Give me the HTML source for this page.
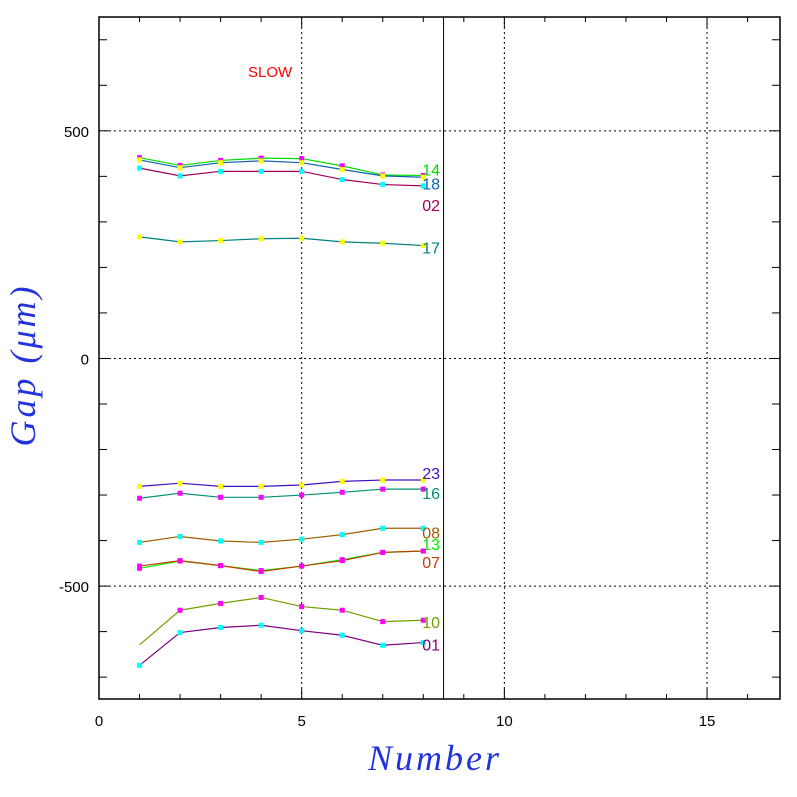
<!DOCTYPE html>
<html><head><meta charset="utf-8"><style>
body{margin:0;background:#fff}
svg{display:block;font-family:"Liberation Sans",sans-serif}
</style></head><body>
<svg id="chart" width="797" height="797" viewBox="0 0 797 797">
<rect width="797" height="797" fill="#fff"/>
<g id="grid"></g><g id="axes"></g><g id="series"></g>
<text x="248" y="77" fill="#ff0000" font-size="15">SLOW</text>
<text x="435" y="770" fill="#2233dd" font-family="Liberation Serif,serif" font-style="italic" font-size="36" letter-spacing="3" text-anchor="middle">Number</text>
<text transform="translate(35,365) rotate(-90)" fill="#2233dd" font-family="Liberation Serif,serif" font-style="italic" font-size="36" letter-spacing="3" text-anchor="middle">Gap (μm)</text>
</svg>
<script>
const xTicks=[0,5,10,15];
const yTicks=[-500,0,500];
const xs=[1,2,3,4,5,6,7,8];
const names=["14","18","02","17","23","16","08","13","07","10","01"];
const s14=[441,424,435,440,439,423,403,402];
const s18=[436,419,430,434,430,415,401,398];
const s02=[418,401,411,411,411,393,382,379];
const s17=[267,256,259,263,264,256,253,248];
const s23=[-281,-274,-281,-281,-278,-270,-267,-267];
const s16=[-307,-296,-305,-305,-300,-294,-287,-287];
const s08=[-404,-391,-401,-404,-397,-387,-373,-373];
const s13=[-461,-445,-455,-466,-456,-442,-426,-423];
const s07=[-456,-444,-455,-468,-456,-444,-426,-423];
const s10=[-629,-553,-538,-525,-545,-553,-578,-575];
const s01=[-674,-602,-591,-586,-598,-608,-630,-624];
const vals=[s14,s18,s02,s17,s23,s16,s08,s13,s07,s10,s01];
const labelDy=[0,12,25,8,-1,10,10,-1,17,8,8];
const lineColors=["#00dd00","#1060b0","#a0005a","#008080","#4010c0","#009070","#a06000","#00ee00","#c04000","#70a000","#800080"];
const markColors=["#ff00ff","#ffff00","#00ffff","#ffff00","#ffff00","#ff00ff","#00ffff","#ff00ff","#ff00ff","#ff00ff","#00ffff"];
const vline=8.5;
const X0=99,X1=780,Y0=17,Y1=699,xmin=0,xmax=16.8,ymin=-748,ymax=750;
const X=v=>X0+(v-xmin)/(xmax-xmin)*(X1-X0);
const Y=v=>Y1-(v-ymin)/(ymax-ymin)*(Y1-Y0);
const NS="http://www.w3.org/2000/svg";
function mk(t,p,a){const e=document.createElementNS(NS,t);for(const k in a)e.setAttribute(k,a[k]);p.appendChild(e);return e;}
const grid=document.getElementById('grid'),axes=document.getElementById('axes'),ser=document.getElementById('series');
xTicks.forEach(t=>{if(t>0){const l=mk('line',grid,{x1:X(t),x2:X(t),y1:Y0,y2:Y1,stroke:'#000','stroke-dasharray':'2,3'});
}
const tx=mk('text',axes,{x:X(t),y:Y1+27,'font-size':15,'text-anchor':'middle'});tx.textContent=t;
});
yTicks.forEach(t=>{const l=mk('line',grid,{x1:X0,x2:X1,y1:Y(t),y2:Y(t),stroke:'#000','stroke-dasharray':'2,3'});

const tx=mk('text',axes,{x:X0-10,y:Y(t)+6,'font-size':15,'text-anchor':'end'});tx.textContent=t;
});
const fr=mk('rect',axes,{x:X0,y:Y0,width:X1-X0,height:Y1-Y0,fill:'none',stroke:'#000','stroke-width':1.5});

for(let v=1;v<=16;v++){const L=v%5==0?10:5;
mk('line',axes,{x1:X(v),x2:X(v),y1:Y1,y2:Y1-L,stroke:'#000'});mk('line',axes,{x1:X(v),x2:X(v),y1:Y0,y2:Y0+L,stroke:'#000'});}
for(let v=-700;v<=700;v+=100){const L=v%500==0?10:8;
mk('line',axes,{x1:X0,x2:X0+L,y1:Y(v),y2:Y(v),stroke:'#000'});mk('line',axes,{x1:X1,x2:X1-L,y1:Y(v),y2:Y(v),stroke:'#000'});}
const vl=mk('line',axes,{x1:X(vline),x2:X(vline),y1:Y0,y2:Y1,stroke:'#000'});

vals.forEach((arr,i)=>{const g=mk('g',ser,{});

mk('polyline',g,{points:arr.map((v,j)=>X(xs[j])+','+Y(v)).join(' '),fill:'none',stroke:lineColors[i],'stroke-width':1.2});
arr.forEach((v,j)=>{if(i==9&&j==0)return;const r=mk('rect',g,{x:X(xs[j])-2.5,y:Y(v)-2.5,width:5,height:5,fill:markColors[i]});
});
const last=arr[arr.length-1];
const t=mk('text',g,{x:X(xs[xs.length-1])-1,y:Y(last)+labelDy[i],'font-size':16,fill:lineColors[i]});t.textContent=names[i];
});
</script>
</body></html>
